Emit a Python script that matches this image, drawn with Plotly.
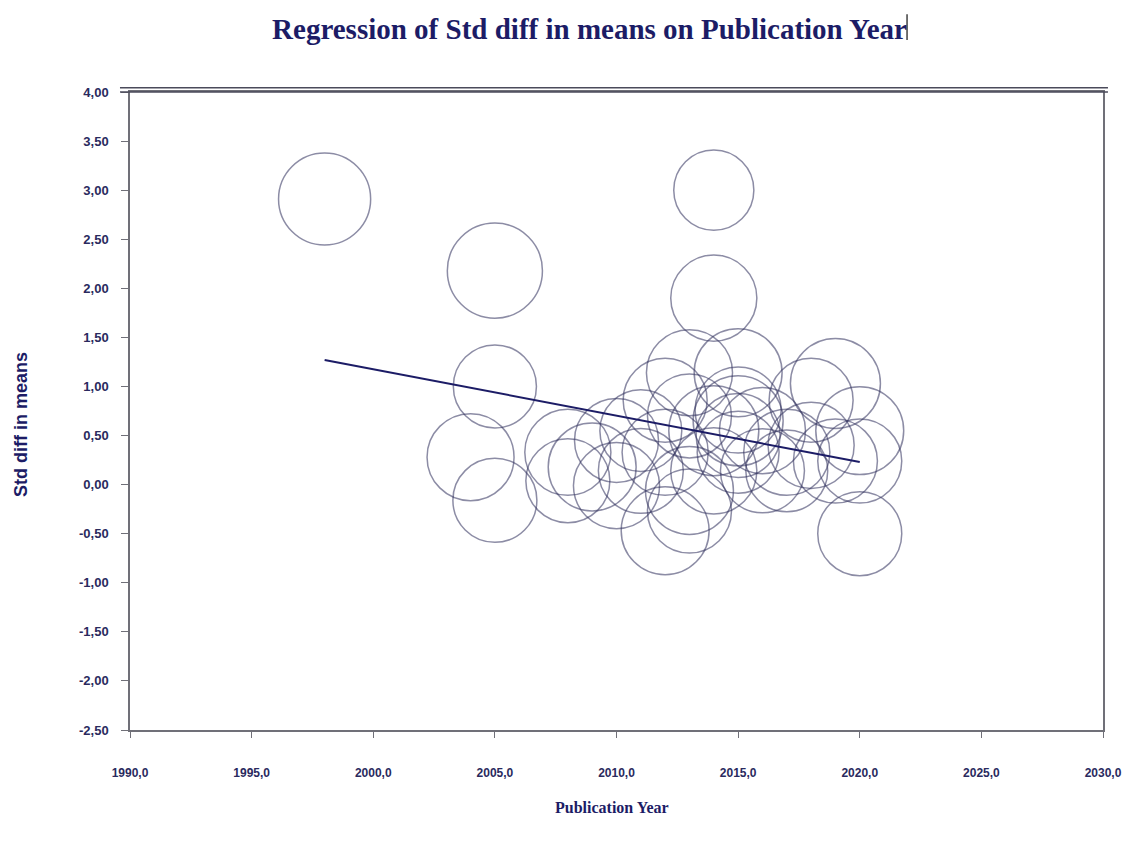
import plotly.graph_objects as go

# Study-level data: publication year, standardized mean difference, relative weight
pub_year = [1998, 2004, 2005, 2005, 2005, 2008, 2008, 2009, 2010, 2010,
            2011, 2011, 2012, 2012, 2012, 2013, 2013, 2013, 2013, 2014,
            2014, 2014, 2014, 2015, 2015, 2015, 2015, 2015, 2016, 2016,
            2017, 2017, 2018, 2018, 2019, 2019, 2020, 2020, 2020]
std_diff = [2.91, 0.28, 2.18, 1.00, -0.16, 0.33, 0.04, 0.18, 0.45, -0.01,
            0.55, 0.14, 0.86, 0.33, -0.47, 1.14, 0.70, -0.06, -0.27, 3.00,
            1.90, 0.55, 0.14, 1.14, 0.76, 0.65, 0.50, 0.33, 0.55, 0.14,
            0.33, 0.14, 0.86, 0.40, 1.03, 0.24, 0.55, 0.24, -0.50]
weight = [3.07, 2.90, 3.17, 2.77, 2.80, 2.87, 2.80, 2.93, 2.80, 2.87,
          2.73, 2.83, 2.80, 2.87, 2.93, 2.87, 2.80, 2.93, 2.80, 2.67,
          2.87, 3.00, 2.87, 2.93, 2.87, 3.00, 2.80, 2.73, 2.87, 2.80,
          2.87, 2.73, 2.80, 2.87, 3.00, 2.80, 2.93, 2.80, 2.80]

# Fitted meta-regression line end points
fit_year = [1998, 2020]
fit_value = [1.27, 0.23]

x_ticks = [1990, 1995, 2000, 2005, 2010, 2015, 2020, 2025, 2030]
x_tick_text = ["1990,0", "1995,0", "2000,0", "2005,0", "2010,0",
               "2015,0", "2020,0", "2025,0", "2030,0"]
y_ticks = [4.0, 3.5, 3.0, 2.5, 2.0, 1.5, 1.0, 0.5, 0.0,
           -0.5, -1.0, -1.5, -2.0, -2.5]
y_tick_text = ["4,00", "3,50", "3,00", "2,50", "2,00", "1,50", "1,00", "0,50",
               "0,00", "-0,50", "-1,00", "-1,50", "-2,00", "-2,50"]

NAVY = "#1c1c66"
AXIS_GREY = "#707078"

fig = go.Figure()

fig.add_trace(go.Scatter(
    x=pub_year, y=std_diff, mode="markers",
    marker=dict(
        symbol="circle-open",
        size=[w * 30 for w in weight],
        color="rgba(50,50,95,0.8)",
        line=dict(width=1.5),
    ),
    hoverinfo="x+y",
    showlegend=False,
))

fig.add_trace(go.Scatter(
    x=fit_year, y=fit_value, mode="lines",
    line=dict(color=NAVY, width=2),
    hoverinfo="skip",
    showlegend=False,
))

x_tick_font = dict(family="Liberation Sans Narrow, Arial Narrow, Liberation Sans, sans-serif",
                   size=12, color="#2a2a5e", weight="bold")
y_tick_font = dict(family="Liberation Sans, Arial, sans-serif",
                   size=13, color="#2a2a5e", weight="bold")

fig.update_layout(
    width=1125, height=845,
    margin=dict(l=130, r=22, t=92, b=115),
    paper_bgcolor="white", plot_bgcolor="white",
    title=dict(
        text="<b>Regression of Std diff in means on Publication Year</b>",
        x=0.524, xanchor="center", y=0.966, yanchor="middle",
        font=dict(family="Liberation Serif, Times New Roman, serif", size=29, color=NAVY),
    ),
    xaxis=dict(
        range=[1990, 2030], tickvals=x_ticks, ticktext=x_tick_text,
        showgrid=False, zeroline=False, automargin=False,
        showline=True, linecolor=AXIS_GREY, linewidth=1.5, mirror=True,
        ticks="outside", ticklen=6, tickcolor=AXIS_GREY, tickwidth=1,
        ticklabelstandoff=25, tickfont=x_tick_font,
    ),
    yaxis=dict(
        range=[-2.5, 4.0], tickvals=y_ticks, ticktext=y_tick_text,
        showgrid=False, zeroline=False, automargin=False,
        showline=True, linecolor=AXIS_GREY, linewidth=1.5, mirror=True,
        ticks="outside", ticklen=7, tickcolor=AXIS_GREY, tickwidth=1,
        ticklabelstandoff=10, tickfont=y_tick_font,
    ),
    annotations=[
        dict(text="<b>Std diff in means</b>", textangle=-90,
             xref="paper", yref="paper", x=-0.112, y=0.478,
             xanchor="center", yanchor="middle", showarrow=False,
             font=dict(family="Liberation Sans, Arial, sans-serif", size=18, color=NAVY)),
        dict(text="<b>Publication Year</b>",
             xref="paper", yref="paper", x=0.495, y=-0.121,
             xanchor="center", yanchor="middle", showarrow=False,
             font=dict(family="Liberation Serif, Times New Roman, serif", size=16, color=NAVY)),
    ],
    shapes=[
        # double rule along the top of the frame
        dict(type="line", xref="paper", yref="paper",
             x0=-0.0103, x1=1.0051, y0=1.0065, y1=1.0065,
             line=dict(color="#4a4a5a", width=1.5)),
        dict(type="line", xref="paper", yref="paper",
             x0=-0.0103, x1=1.0051, y0=1.0, y1=1.0,
             line=dict(color="#4a4a5a", width=1.5)),
        # text cursor after the heading
        dict(type="line", xref="paper", yref="paper",
             x0=0.7986, x1=0.7986, y0=1.0815, y1=1.122,
             line=dict(color="#111111", width=1.2)),
    ],
)

fig.write_html("out.html")
